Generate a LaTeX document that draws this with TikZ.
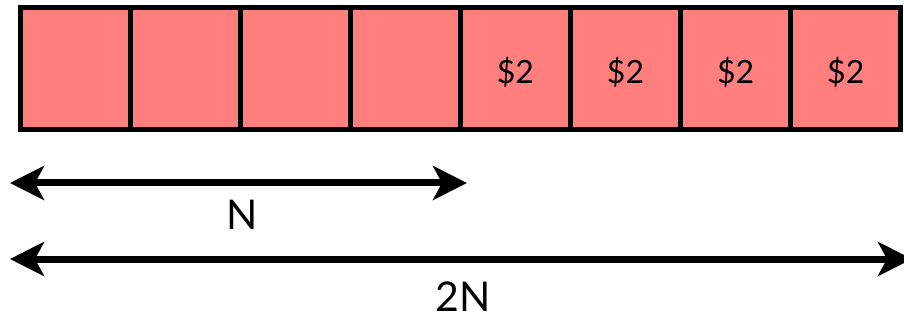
\documentclass[tikz,border=0pt]{standalone}
\usepackage{fontspec}
\setmainfont{Lato}
\usetikzlibrary{arrows.meta}
\definecolor{cellred}{RGB}{255,127,127}
\newcommand{\cash}{\raisebox{-4pt}[\height][\depth]{\$2}}
\tikzset{
  cell/.style={draw=black, fill=cellred, line width=5pt, inner sep=0pt,
    minimum width=110.1pt, minimum height=122.5pt, font=\fontsize{32}{32}\selectfont},
  span/.style={line width=7pt, {Stealth[length=34pt,width=34pt,inset=9pt]}-{Stealth[length=34pt,width=34pt,inset=9pt]}},
  dimlabel/.style={inner sep=0pt, font=\fontsize{41}{41}\selectfont}
}
\begin{document}
\begin{tikzpicture}[x=1pt, y=-1pt]
  \useasboundingbox (0,0) rectangle (904,320);
  % the array of 2N cells; the upper half holds the stored dollars
  \foreach \i/\t in {1/{},2/{},3/{},4/{},5/\cash,6/\cash,7/\cash,8/\cash} {
    \node[cell] (c\i) at ({20+110.1*(\i-0.5)}, 68.75) {\t};
  }
  % extents N and 2N
  \coordinate (nL) at (10,183);
  \coordinate (nR) at (467,183);
  \coordinate (mL) at (10,259);
  \coordinate (mR) at (912,259);
  \draw[span] (nL) -- (nR);
  \draw[span] (mL) -- (mR);
  \node[dimlabel] (nlab) at (242,215) {N};
  \node[dimlabel] (mlab) at (463,297) {2N};
\end{tikzpicture}
\end{document}
